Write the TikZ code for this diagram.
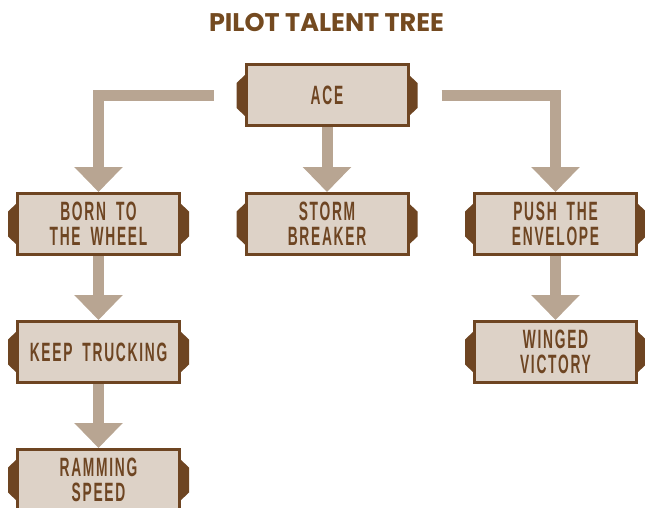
\documentclass[tikz,border=0pt]{standalone}
\usepackage{fontspec}
\usetikzlibrary{arrows.meta,calc}
\newfontfamily\talentfont[FakeStretch=0.52,LetterSpace=6.5,WordSpace=1.8]{Liberation Sans}
\newfontfamily\headfont{Poppins}
\definecolor{bark}{HTML}{6E4522}
\definecolor{parch}{HTML}{DDD2C7}
\definecolor{trail}{HTML}{B8A592}
\definecolor{headbrown}{HTML}{744A20}
\tikzset{
  talent/.style={draw=bark, line width=3pt, fill=parch, text=bark,
    minimum width=162pt, minimum height=61pt, inner sep=0pt, align=center,
    font=\talentfont\bfseries\fontsize{26.5}{25}\selectfont},
  link/.style={draw=trail, line width=11pt, line join=miter,
    -{Triangle[width=47pt,length=25pt]}},
  tab/.style={fill=bark}
}
\begin{document}
\begin{tikzpicture}[x=1pt,y=-1pt]
\useasboundingbox (0,0) rectangle (645,508);
\clip (0,0) rectangle (645,508);

\node[font=\headfont\bfseries\fontsize{25.5}{25.5}\selectfont, text=headbrown] (title) at (326.5,22.5) {PILOT TALENT TREE};

% talent boxes
\node[talent] (ace)   at (327,95.5)   {ACE};
\node[talent] (born)  at (98.5,224)   {BORN TO\\THE WHEEL};
\node[talent] (storm) at (327,224)    {STORM\\BREAKER};
\node[talent] (push)  at (555.5,224)  {PUSH THE\\ENVELOPE};
\node[talent] (keep)  at (98.5,352)   {KEEP TRUCKING};
\node[talent] (wing)  at (555.5,352)  {WINGED\\VICTORY};
\node[talent] (ram)   at (98.5,480)   {RAMMING\\SPEED};

% side tabs on each box
\foreach \n in {ace,born,storm,push,keep,wing,ram}{
  \fill[tab] ($(\n.west)+(1,-21)$) -- ++(-9,8.5) -- ++(0,25) -- ++(9,8.5) -- cycle;
  \fill[tab] ($(\n.east)+(-1,-21)$) -- ++(9,8.5) -- ++(0,25) -- ++(-9,8.5) -- cycle;
}

% connectors
\coordinate (aceL) at ($(ace.west)+(-31,0)$);
\coordinate (aceR) at ($(ace.east)+(32,0)$);
\draw[link] (aceL) -| (born.north);
\draw[link] (aceR) -| (push.north);
\draw[link] (ace.south) -- (storm.north);
\draw[link] (born.south) -- (keep.north);
\draw[link] (keep.south) -- (ram.north);
\draw[link] (push.south) -- (wing.north);
\end{tikzpicture}
\end{document}
